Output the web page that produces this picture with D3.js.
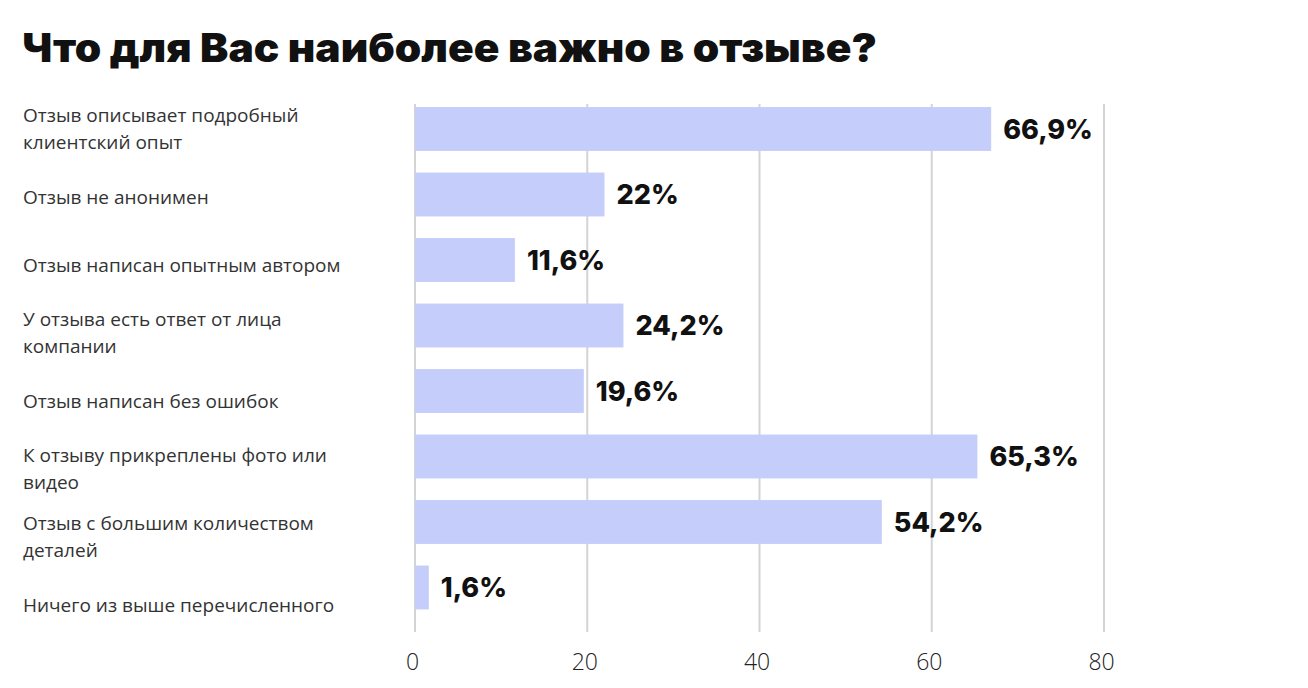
<!DOCTYPE html>
<html><head><meta charset="utf-8">
<script src="https://cdn.jsdelivr.net/npm/d3@7"></script>
<style>
html,body{margin:0;padding:0;background:#fff;}
svg{display:block;}
</style></head>
<body>
<svg id="chart" width="1308" height="688"></svg>
<script>
const title = "Что для Вас наиболее важно в отзыве?";
const categories = [
  ["Отзыв описывает подробный", "клиентский опыт"],
  ["Отзыв не анонимен"],
  ["Отзыв написан опытным автором"],
  ["У отзыва есть ответ от лица", "компании"],
  ["Отзыв написан без ошибок"],
  ["К отзыву прикреплены фото или", "видео"],
  ["Отзыв с большим количеством", "деталей"],
  ["Ничего из выше перечисленного"]
];
const values = [66.9, 22, 11.6, 24.2, 19.6, 65.3, 54.2, 1.6];
const valueLabels = ["66,9%", "22%", "11,6%", "24,2%", "19,6%", "65,3%", "54,2%", "1,6%"];
const ticks = [0, 20, 40, 60, 80];

const svg = d3.select("#chart");
const font = "'Open Sans', 'Noto Sans', sans-serif";

svg.append("text")
  .attr("x", 22).attr("y", 62)
  .attr("font-family", "Inter, 'Open Sans', sans-serif")
  .attr("font-weight", 900)
  .attr("font-size", 40)
  .attr("textLength", 855)
  .attr("lengthAdjust", "spacingAndGlyphs")
  .attr("fill", "#111")
  .text(title);

const x = d3.scaleLinear().domain([0, 80]).range([415, 1104]);
const idx = d3.range(categories.length);
const y = d3.scaleBand().domain(idx).range([96.25, 620.25]).paddingInner(0.33).paddingOuter(0.165);
const yl = d3.scalePoint().domain(idx).range([129, 605]);

// grid
const g = svg.append("g");
g.selectAll("line.grid").data(ticks).join("line")
  .attr("class", "grid")
  .attr("x1", d => x(d)).attr("x2", d => x(d))
  .attr("y1", 104).attr("y2", 632)
  .attr("stroke", "#d4d4d4").attr("stroke-width", 2);

// axis labels
const axis = d3.axisBottom(x).tickValues(ticks).tickSize(0).tickPadding(0);
const ax = svg.append("g").attr("transform", "translate(-3,654)").call(axis);
ax.select(".domain").remove();
ax.selectAll("text")
  .attr("font-family", font).attr("font-size", 23).attr("font-weight", 300)
  .attr("fill", "#222").attr("dy", "0.71em");

// bars
g.selectAll("rect.bar").data(values).join("rect")
  .attr("class", "bar")
  .attr("x", x(0)).attr("y", (d, i) => y(i))
  .attr("width", d => x(d) - x(0)).attr("height", y.bandwidth())
  .attr("fill", "#c5cdfa");

// value labels
g.selectAll("text.val").data(values).join("text")
  .attr("class", "val")
  .attr("x", d => x(d) + 12)
  .attr("y", (d, i) => y(i) + y.bandwidth() / 2)
  .attr("dy", "0.36em")
  .attr("font-family", "Inter, 'Open Sans', sans-serif")
  .attr("font-weight", 800)
  .attr("font-size", 27)
  .attr("fill", "#111")
  .text((d, i) => valueLabels[i]);

// category labels: one text element per line
const lineGap = 26.5;
const lines = [];
categories.forEach((c, i) => c.forEach((t, j) => lines.push({ i, j, n: c.length, t })));
g.selectAll("text.cat").data(lines).join("text")
  .attr("class", "cat")
  .attr("font-family", font)
  .attr("font-size", 19)
  .attr("fill", "#333")
  .attr("x", 23)
  .attr("y", d => yl(d.i) - (d.n - 1) * lineGap / 2 + d.j * lineGap)
  .attr("dy", "0.35em")
  .text(d => d.t);
</script>
</body></html>
